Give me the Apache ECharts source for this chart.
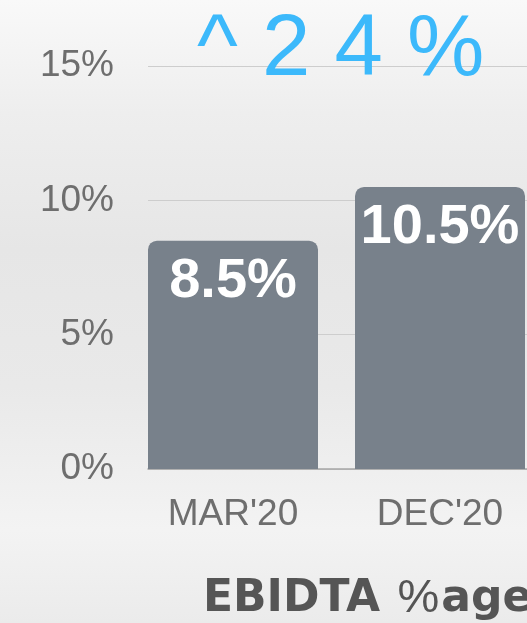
<!DOCTYPE html>
<html>
<head>
<meta charset="utf-8">
<script src="https://cdn.jsdelivr.net/npm/echarts@6/dist/echarts.min.js"></script>
<style>
  html, body { margin: 0; padding: 0; }
  #chart { width: 527px; height: 623px; }
</style>
</head>
<body>
<div id="chart"></div>
<script>
// EBIDTA margin by period
const periods = ["MAR'20", "DEC'20"];
const ebitdaPct = [8.5, 10.5];
const yTicks = [0, 5, 10, 15];
const growthText = '^ 2 4 %';

const FONT = '"Liberation Sans", Arial, sans-serif';
const HEAVY = '"DejaVu Sans", "Liberation Sans", sans-serif';
const chart = echarts.init(document.getElementById('chart'), null, { renderer: 'canvas' });

const yMin = yTicks[0];
const yMax = yTicks[yTicks.length - 1];
const yStep = yTicks[1] - yTicks[0];

chart.setOption({
  backgroundColor: {
    type: 'linear', x: 0, y: 0, x2: 0, y2: 1,
    colorStops: [
      { offset: 0, color: '#f9f9f9' },
      { offset: 0.18, color: '#eeeeee' },
      { offset: 0.4, color: '#e6e6e6' },
      { offset: 0.62, color: '#e9e9e9' },
      { offset: 0.85, color: '#f3f3f3' },
      { offset: 1, color: '#ebebeb' }
    ]
  },
  title: {
    text: growthText,
    left: 197,
    top: 8,
    padding: 0,
    textStyle: { color: '#3cb9fb', fontSize: 87, fontWeight: 'normal', fontFamily: FONT }
  },
  graphic: [{
    type: 'text',
    left: 203,
    top: 576,
    style: {
      text: '{b|EBIDTA }{n|%}{b|age}',
      rich: {
        b: { fontSize: 44, fontWeight: 'bold', fontFamily: HEAVY, fill: '#555555' },
        n: { fontSize: 47, fontWeight: 'normal', fontFamily: FONT, fill: '#555555', padding: [0, 2, 0, 2] }
      }
    }
  }],
  grid: [
    // gridlines and value labels
    { left: 148, right: 0, top: 66, bottom: 154, outerBoundsMode: 'none' },
    // bars (the second band runs past the right edge)
    { left: 129.5, width: 414, top: 66, bottom: 154, outerBoundsMode: 'none' }
  ],
  xAxis: [
    {
      gridIndex: 0, type: 'category', data: periods,
      axisLine: { show: true, lineStyle: { color: '#a6a6a6', width: 1.5 } },
      axisTick: { show: false }, axisLabel: { show: false }, splitLine: { show: false }
    },
    {
      gridIndex: 1, type: 'category', data: periods,
      axisLine: { show: false }, axisTick: { show: false },
      axisLabel: { color: '#6e6e6e', fontSize: 37, fontFamily: FONT, margin: 27 }
    }
  ],
  yAxis: [
    {
      gridIndex: 0, type: 'value', min: yMin, max: yMax, interval: yStep,
      axisLine: { show: false }, axisTick: { show: false },
      axisLabel: { color: '#6e6e6e', fontSize: 37, fontFamily: FONT, margin: 34, formatter: '{value}%' },
      splitLine: { show: true, lineStyle: { color: '#cdcdcd', width: 1 } }
    },
    {
      gridIndex: 1, type: 'value', min: yMin, max: yMax, interval: yStep,
      axisLine: { show: false }, axisTick: { show: false },
      axisLabel: { show: false }, splitLine: { show: false }
    }
  ],
  series: [{
    type: 'bar',
    xAxisIndex: 1, yAxisIndex: 1,
    data: ebitdaPct,
    barWidth: 170,
    itemStyle: { color: '#78818b', borderRadius: [9, 9, 0, 0] },
    label: {
      show: true,
      position: 'insideTop',
      distance: 13,
      formatter: '{c}%',
      color: '#ffffff',
      fontSize: 56,
      fontWeight: 'bold',
      fontFamily: FONT
    },
    animation: false
  }],
  animation: false
});
</script>
</body>
</html>
